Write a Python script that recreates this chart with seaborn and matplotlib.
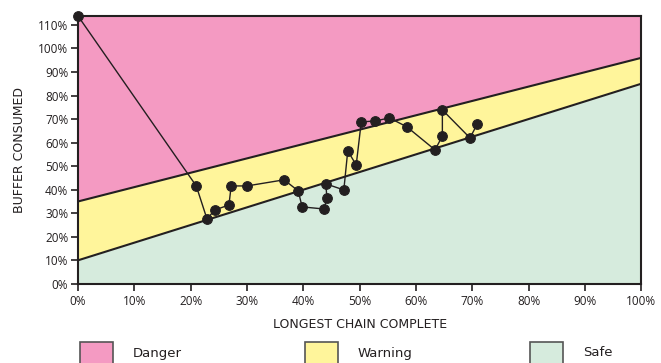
import matplotlib
matplotlib.use("Agg")
import matplotlib.pyplot as plt
import seaborn as sns
import pandas as pd
from matplotlib.patches import Rectangle
from matplotlib.ticker import FuncFormatter

# Zone boundaries (value at 0% and 100% chain complete)
boundary_x = [0, 100]
danger_edge = [35, 96]
safe_edge = [10, 85]

# Fever chart track
chain_complete = [0, 21.0, 22.9, 24.3, 26.8, 27.2, 30.0, 36.6, 39.1, 39.8, 43.7, 44.2,
                  44.0, 47.2, 47.9, 49.4, 50.3, 52.8, 55.3, 58.4, 63.4, 64.7, 64.7,
                  69.6, 70.9]
buffer_consumed = [113.8, 41.6, 27.6, 31.4, 33.5, 41.6, 41.6, 44.2, 39.5, 32.7, 31.8, 36.5,
                   42.5, 39.9, 56.5, 50.5, 68.8, 69.2, 70.5, 66.7, 56.9, 62.8, 73.9,
                   62.0, 67.9]

zone_names = ["Danger", "Warning", "Safe"]
zone_colors = ["#F49AC2", "#FFF59B", "#D6EBDD"]

df = pd.DataFrame({"chain": chain_complete, "buffer": buffer_consumed})

sns.set_style("white")
plt.rcParams["font.family"] = ["Open Sans", "DejaVu Sans"]

fig = plt.figure(figsize=(6.61, 3.63), dpi=100)
ax = fig.add_axes([0.118, 0.218, 0.852, 0.738])

ymax = 113.8
ax.fill_between(boundary_x, danger_edge, ymax, color=zone_colors[0], lw=0)
ax.fill_between(boundary_x, safe_edge, danger_edge, color=zone_colors[1], lw=0)
ax.fill_between(boundary_x, 0, safe_edge, color=zone_colors[2], lw=0)
ax.plot(boundary_x, danger_edge, color="#231f20", lw=1.5)
ax.plot(boundary_x, safe_edge, color="#231f20", lw=1.5)

sns.lineplot(data=df, x="chain", y="buffer", sort=False, estimator=None, ax=ax,
             color="#231f20", lw=1.0, marker="o", markersize=7,
             markeredgecolor="#231f20", clip_on=False, zorder=5)

ax.set_xlim(0, 100)
ax.set_ylim(0, ymax)
ax.set_xticks(range(0, 101, 10))
ax.set_yticks(range(0, 111, 10))
pct = FuncFormatter(lambda v, p: f"{int(v)}%")
ax.xaxis.set_major_formatter(pct)
ax.yaxis.set_major_formatter(pct)
ax.tick_params(axis="both", which="major", direction="out", length=5, width=1.2,
               color="#231f20", labelsize=8.5, labelcolor="#231f20", pad=2)
ax.tick_params(axis="x", bottom=True, pad=3)
ax.tick_params(axis="y", left=True)
for s in ax.spines.values():
    s.set_color("#231f20")
    s.set_linewidth(1.5)

label_font = dict(fontsize=9, color="#231f20", family="DejaVu Sans")
ax.set_xlabel("LONGEST CHAIN COMPLETE", labelpad=7, **label_font)
ax.set_ylabel("BUFFER CONSUMED", labelpad=9, **label_font)

# Legend along bottom edge
W, H = 661, 363
patch_left = [80, 305, 530]
for name, col, px in zip(zone_names, zone_colors, patch_left):
    fig.add_artist(Rectangle((px / W, (H - 368) / H), 33 / W, 26 / H,
                             transform=fig.transFigure, facecolor=col,
                             edgecolor="#555555", lw=1.2))
    fig.text((px + 53) / W, 1 - 353 / H, name, fontsize=9.5, color="#231f20",
             family="DejaVu Sans", va="center", ha="left")

fig.savefig("out.png", dpi=100)
